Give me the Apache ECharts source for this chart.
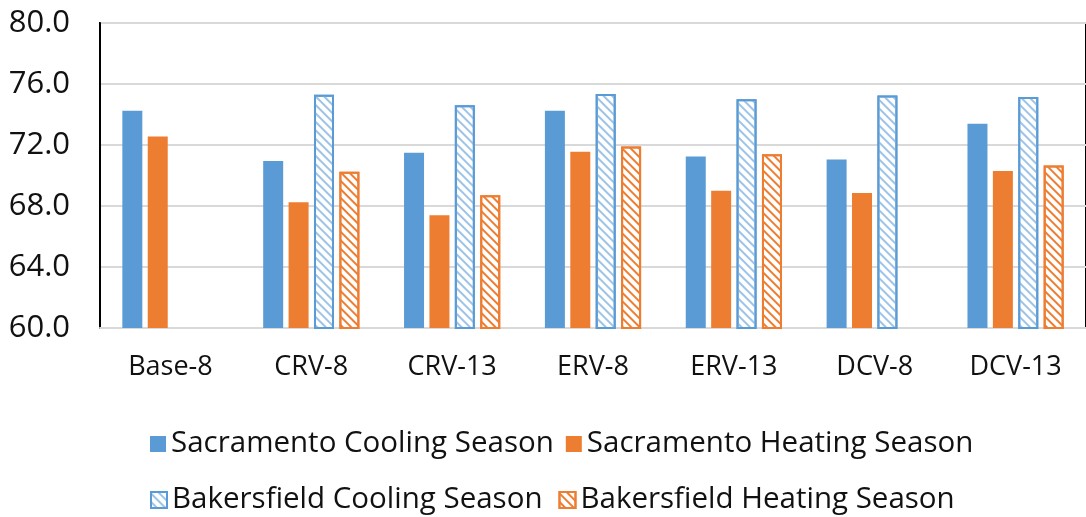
<!DOCTYPE html>
<html lang="en">
<head>
    <meta charset="UTF-8">
    <title>Ventilation strategies</title>
    <style>
        body, html {
            margin: 0;
            padding: 0;
            background: #fff;
        }

        #main {
            width: 1086px;
            height: 517px;
        }
    </style>
</head>
<body>
<div id="main"></div>
<script src="https://cdn.jsdelivr.net/npm/echarts@6/dist/echarts.min.js"></script>
<script>

    // data
    let categories = ['Base-8', 'CRV-8', 'CRV-13', 'ERV-8', 'ERV-13', 'DCV-8', 'DCV-13'];
    let sacCooling = [74.25, 70.95, 71.5, 74.25, 71.25, 71.05, 73.4];
    let sacHeating = [72.55, 68.25, 67.4, 71.55, 69.0, 68.85, 70.3];
    let bakCooling = [null, 75.3, 74.6, 75.35, 75.0, 75.25, 75.15];
    let bakHeating = [null, 70.25, 68.7, 71.9, 71.4, null, 70.65];
    let yTicks = {min: 60, max: 80, step: 4};

    let blue = '#5b9bd5';
    let orange = '#ed7d31';
    let font = '"Open Sans", "Noto Sans", sans-serif';

    //  diagonal hatch, lines running from top-left to bottom-right
    function hatch(color) {
        return {
            symbol: 'rect',
            color: color,
            dashArrayX: [1, 0],
            dashArrayY: [1.5, 3.5],
            rotation: Math.PI / 4
        };
    }

    function solidBar(name, data, color) {
        return {
            name: name,
            type: 'bar',
            data: data,
            barWidth: 20,
            barGap: '27%',
            itemStyle: {color: color}
        };
    }

    function hatchBar(name, data, color, lineColor) {
        return {
            name: name,
            type: 'bar',
            data: data,
            barWidth: 20,
            barGap: '27%',
            itemStyle: {
                color: '#fff',
                borderColor: color,
                borderWidth: 2,
                decal: hatch(lineColor)
            }
        };
    }

    let legendText = {fontFamily: font, fontSize: 29.5, color: '#111'};

    let myChart = echarts.init(document.getElementById('main'));
    let option = {
        animation: false,
        backgroundColor: '#fff',
        grid: {
            left: 100,
            right: -5,
            top: 23,
            bottom: 189,
            show: true,
            borderColor: '#000',
            borderWidth: 2
        },
        legend: [
            {
                data: ['Sacramento Cooling Season', 'Sacramento Heating Season'],
                left: 145,
                top: 424,
                icon: 'rect',
                itemWidth: 16,
                itemHeight: 16,
                itemGap: 12,
                textStyle: legendText
            },
            {
                data: ['Bakersfield Cooling Season', 'Bakersfield Heating Season'],
                left: 145,
                top: 480,
                icon: 'rect',
                itemWidth: 16,
                itemHeight: 16,
                itemGap: 16,
                textStyle: legendText
            }
        ],
        xAxis: {
            type: 'category',
            data: categories,
            axisLine: {lineStyle: {color: '#d9d9d9', width: 2}},
            axisTick: {show: false},
            axisLabel: {
                fontFamily: font,
                fontSize: 27,
                color: '#111',
                margin: 26
            }
        },
        yAxis: {
            type: 'value',
            min: yTicks.min,
            max: yTicks.max,
            interval: yTicks.step,
            axisLine: {show: true, lineStyle: {color: '#000', width: 2}},
            axisTick: {show: false},
            splitLine: {lineStyle: {color: '#d9d9d9', width: 2}},
            axisLabel: {
                fontFamily: font,
                fontSize: 31,
                color: '#111',
                margin: 30,
                formatter: function (v) {
                    return v.toFixed(1);
                }
            }
        },
        series: [
            solidBar('Sacramento Cooling Season', sacCooling, blue),
            solidBar('Sacramento Heating Season', sacHeating, orange),
            hatchBar('Bakersfield Cooling Season', bakCooling, blue, '#9dc3e6'),
            hatchBar('Bakersfield Heating Season', bakHeating, orange, orange)
        ]
    };

    myChart.setOption(option);

</script>
</body>
</html>
